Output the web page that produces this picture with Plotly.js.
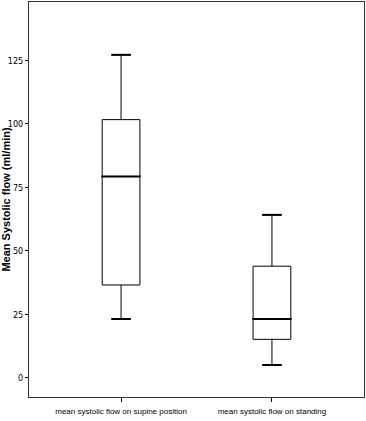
<!DOCTYPE html>
<html>
<head>
<meta charset="utf-8">
<script src="https://cdn.plot.ly/plotly-3.0.1.min.js"></script>
<style>html,body{margin:0;padding:0;background:#fff;}#chart{width:366px;height:421px;}</style>
</head>
<body>
<div id="chart"></div>
<script>
var categories = ["mean systolic flow on supine position", "mean systolic flow on standing"];
var lowerWhisker = [23.2, 5.1];
var q1 = [36.6, 15.2];
var median = [79.3, 23.2];
var q3 = [101.7, 44.0];
var upperWhisker = [127.2, 64.2];
var yTicks = [0, 25, 50, 75, 100, 125];

var FONT = "'DejaVu Sans Condensed', 'Liberation Sans', Arial, sans-serif";
var FONT_X = "'Liberation Sans', Arial, sans-serif";

var traces = [{
  type: 'box',
  x: categories,
  q1: q1,
  median: median,
  q3: q3,
  lowerfence: lowerWhisker,
  upperfence: upperWhisker,
  width: 0.25,
  whiskerwidth: 0.5,
  fillcolor: '#ffffff',
  line: {color: '#000000', width: 1},
  hoverinfo: 'none',
  showlegend: false
}, {
  type: 'scatter',
  mode: 'markers',
  x: categories,
  y: median,
  marker: {symbol: 'line-ew', size: 28, line: {color: '#000000', width: 2}},
  hoverinfo: 'none',
  showlegend: false
}, {
  type: 'scatter',
  mode: 'markers',
  x: categories.concat(categories),
  y: lowerWhisker.concat(upperWhisker),
  marker: {symbol: 'line-ew', size: 14, line: {color: '#000000', width: 2}},
  hoverinfo: 'none',
  showlegend: false
}];

var layout = {
  width: 366,
  height: 421,
  margin: {l: 29, r: 2, t: 2, b: 24},
  paper_bgcolor: '#ffffff',
  plot_bgcolor: '#ffffff',
  font: {family: FONT_X, size: 10, color: '#000000'},
  xaxis: {
    type: 'category',
    range: [-0.61, 1.61],
    showgrid: false,
    zeroline: false,
    showline: true,
    mirror: true,
    linecolor: '#333333',
    linewidth: 1,
    ticks: 'outside',
    ticklen: 4,
    tickcolor: '#000000',
    tickangle: 0,
    automargin: false,
    ticklabelstandoff: 2,
    tickfont: {family: FONT_X, size: 8, color: '#000000'}
  },
  yaxis: {
    range: [-7.5, 148],
    tickvals: yTicks,
    ticktext: yTicks.map(String),
    showgrid: false,
    zeroline: false,
    showline: true,
    mirror: true,
    linecolor: '#333333',
    linewidth: 1,
    ticks: 'outside',
    ticklen: 3,
    tickcolor: '#000000',
    automargin: false,
    tickfont: {family: FONT, size: 9, color: '#000000'},
    title: {text: 'Mean Systolic flow (ml/min)', font: {family: "'Liberation Sans', Arial, sans-serif", size: 11, color: '#000000', weight: 'bold'}, standoff: 4}
  }
};

Plotly.newPlot('chart', traces, layout, {staticPlot: true, displayModeBar: false});
</script>
</body>
</html>
